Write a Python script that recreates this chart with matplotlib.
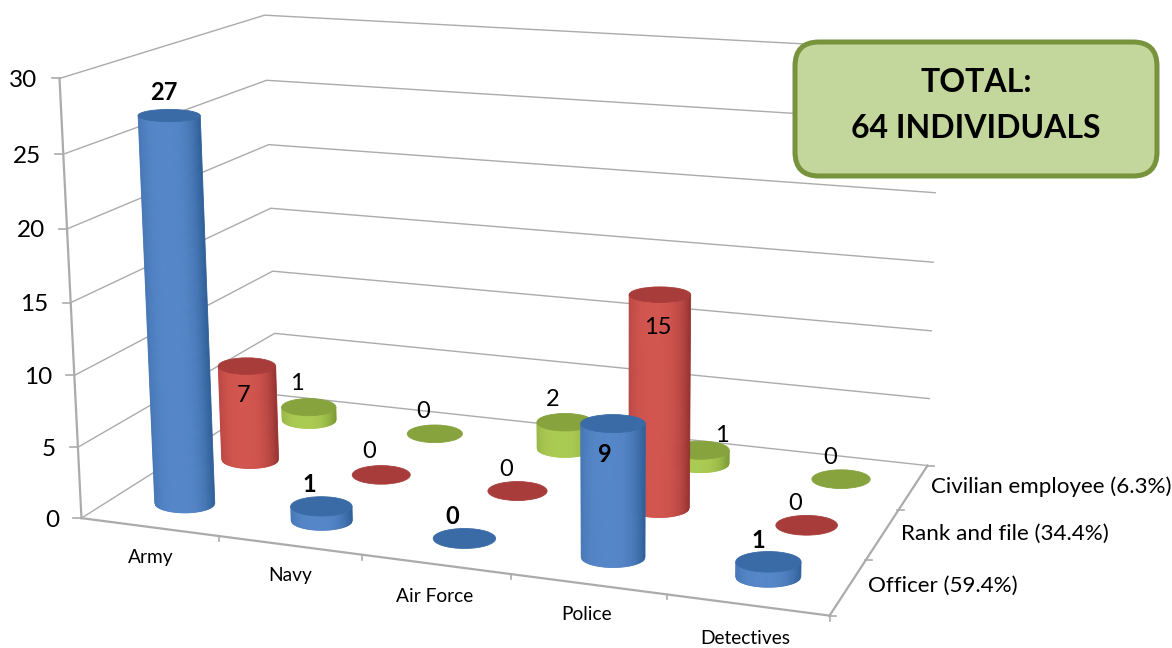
import numpy as np
import matplotlib
matplotlib.use('Agg')
import matplotlib.pyplot as plt
from matplotlib.collections import PolyCollection
from matplotlib.patches import Ellipse, FancyBboxPatch

plt.rcParams['font.family'] = ['Lato', 'DejaVu Sans']

categories = ['Army', 'Navy', 'Air Force', 'Police', 'Detectives']
series = ['Officer (59.4%)', 'Rank and file (34.4%)', 'Civilian employee (6.3%)']
officer = [27, 1, 0, 9, 1]
rank_file = [7, 0, 0, 15, 0]
civilian = [1, 0, 2, 1, 0]
y_ticks = [0, 5, 10, 15, 20, 25, 30]
box_lines = ['TOTAL:', '64 INDIVIDUALS']

calib = [
    (0, 0, 0, 82, 517), (0, 0, 5, 78, 447), (0, 0, 10, 75, 375), (0, 0, 15, 70, 303),
    (0, 0, 20, 67, 229), (0, 0, 25, 63, 154), (0, 0, 30, 60, 78),
    (0, 3, 0, 277, 395), (0, 3, 5, 273, 333), (0, 3, 10, 273, 272), (0, 3, 15, 271, 208),
    (0, 3, 20, 268, 145), (0, 3, 25, 267, 80), (0, 3, 30, 265, 15),
    (5, 3, 0, 929, 465), (5, 3, 5, 927, 399), (5, 3, 10, 932, 332), (5, 3, 15, 934, 263),
    (5, 3, 20, 935, 193), (5, 3, 25, 937, 122), (5, 3, 30, 939, 51),
    (5, 0, 0, 829, 615), (1, 0, 0, 219, 537), (2, 0, 0, 362, 555), (3, 0, 0, 510, 575),
    (4, 0, 0, 666, 597), (5, 1, 0, 867, 558), (5, 2, 0, 899, 508),
]
A, b = [], []
for X, Y, Z, x, y in calib:
    A.append([X, Y, Z, 1, 0, 0, 0, 0, -x * X, -x * Y, -x * Z])
    A.append([0, 0, 0, 0, X, Y, Z, 1, -y * X, -y * Y, -y * Z])
    b += [x, y]
P = np.append(np.linalg.lstsq(np.array(A, float), np.array(b, float), rcond=None)[0], 1).reshape(3, 4)


def project(u, v, z):
    p = P @ np.array([u, v, z, 1.0])
    return p[0] / p[2], p[1] / p[2], p[2]


W0 = 60 * project(0.5, 0.5, 0)[2]

# edge colour, light colour, top colour
colors = [('#2f5f98', '#5586c8', '#3a6ba6'),
          ('#963331', '#d2554f', '#a83c3a'),
          ('#7d9a36', '#aacb52', '#86a33e')]

fig = plt.figure(figsize=(11.72, 6.48), dpi=100)
ax = fig.add_axes([0, 0, 1, 1])
ax.set_xlim(0, 1172)
ax.set_ylim(648, 0)
ax.axis('off')

GRID = '#ababab'
for t in y_ticks:
    pts = [project(0, 0, t), project(0, 3, t), project(5, 3, t)]
    ax.plot([p[0] for p in pts], [p[1] for p in pts], color=GRID, lw=1.0, zorder=1)
    x0, y0, _ = project(0, 0, t)
    ax.plot([x0 - 8, x0], [y0, y0], color=GRID, lw=1.2, zorder=1)
    ax.text(x0 - 22, y0 + 2, str(t), ha='right', va='center', fontsize=17.5, zorder=6)

# frame of the floor and the axes
for a, c in [((0, 0, 0), (0, 0, 30)), ((0, 0, 0), (5, 0, 0)), ((5, 0, 0), (5, 3, 0))]:
    p, q = project(*a), project(*c)
    ax.plot([p[0], q[0]], [p[1], q[1]], color=GRID, lw=1.6, zorder=1)
for i in range(1, 6):
    x0, y0, _ = project(i, 0, 0)
    ax.plot([x0, x0], [y0, y0 + 5], color=GRID, lw=1.2, zorder=1)
for j in range(0, 4):
    x0, y0, _ = project(5, j, 0)
    ax.plot([x0 - 1, x0 + 6], [y0, y0], color=GRID, lw=1.2, zorder=1)


def cylinder(i, j, val, z):
    edge, light, top = colors[j]
    bx, by, bw = project(i + 0.5, j + 0.5, 0)
    tx, ty, tw = project(i + 0.5, j + 0.5, val)
    ba, ta = W0 / bw / 2, W0 / tw / 2
    bb, tb = ba * 0.32, ta * (0.32 - 0.0045 * val)
    if val > 0:
        ts = np.linspace(-1, 1, 61)
        e, l = np.array(matplotlib.colors.to_rgb(edge)), np.array(matplotlib.colors.to_rgb(light))
        polys, cols = [], []
        for t0, t1 in zip(ts[:-1], ts[1:]):
            polys.append([(tx + ta * t0, ty + tb * np.sqrt(1 - t0 ** 2)),
                          (tx + ta * t1, ty + tb * np.sqrt(1 - t1 ** 2)),
                          (bx + ba * t1, by + bb * np.sqrt(1 - t1 ** 2)),
                          (bx + ba * t0, by + bb * np.sqrt(1 - t0 ** 2))])
            m = (t0 + t1) / 2 + 0.15
            cols.append(e + (l - e) * (1 - min(abs(m) / 1.15, 1) ** 3))
        ax.add_collection(PolyCollection(polys, facecolors=cols, edgecolors=cols, linewidths=0.6, zorder=z))
    ax.add_patch(Ellipse((tx, ty), 2 * ta, 2 * tb, facecolor=top, edgecolor=top, lw=0.6, zorder=z + 0.05))


data = [officer, rank_file, civilian]
z = 2.0
for j in [2, 1, 0]:
    for i in range(len(categories)):
        cylinder(i, j, data[j][i], z)
        z += 0.1

# data labels sit where the author dragged them
label_xy = [[(164, 92), (309, 485), (452, 517), (605, 454), (758, 541)],
            [(244, 395), (369, 452), (506, 469), (658, 327), (795, 503)],
            [(297, 384), (423, 411), (553, 400), (722, 436), (830, 457)]]
for j in range(3):
    for i in range(5):
        ax.text(*label_xy[j][i], str(data[j][i]), ha='center', va='center', fontsize=17,
                fontweight='bold' if j == 0 else 'normal', zorder=20)

cat_xy = [(151, 557), (290, 575), (435, 596), (587, 614), (745, 638)]
for name, xy in zip(categories, cat_xy):
    ax.text(*xy, name, ha='center', va='center', fontsize=13.8, zorder=6)
series_xy = [(868, 586), (901, 534), (931, 487)]
for name, xy in zip(series, series_xy):
    ax.text(*xy, name, ha='left', va='center', fontsize=16.1, zorder=6)

box = FancyBboxPatch((818, 65), 316, 88, boxstyle='round,pad=23,rounding_size=24',
                     zorder=21, facecolor='#c3d69b', edgecolor='#77933c', lw=3.6)
ax.add_patch(box)
ax.text(976, 82, box_lines[0], ha='center', va='center', fontsize=23, fontweight='bold', zorder=22)
ax.text(976, 128, box_lines[1], ha='center', va='center', fontsize=23, fontweight='bold', zorder=22)

fig.savefig('out.png', dpi=100)
